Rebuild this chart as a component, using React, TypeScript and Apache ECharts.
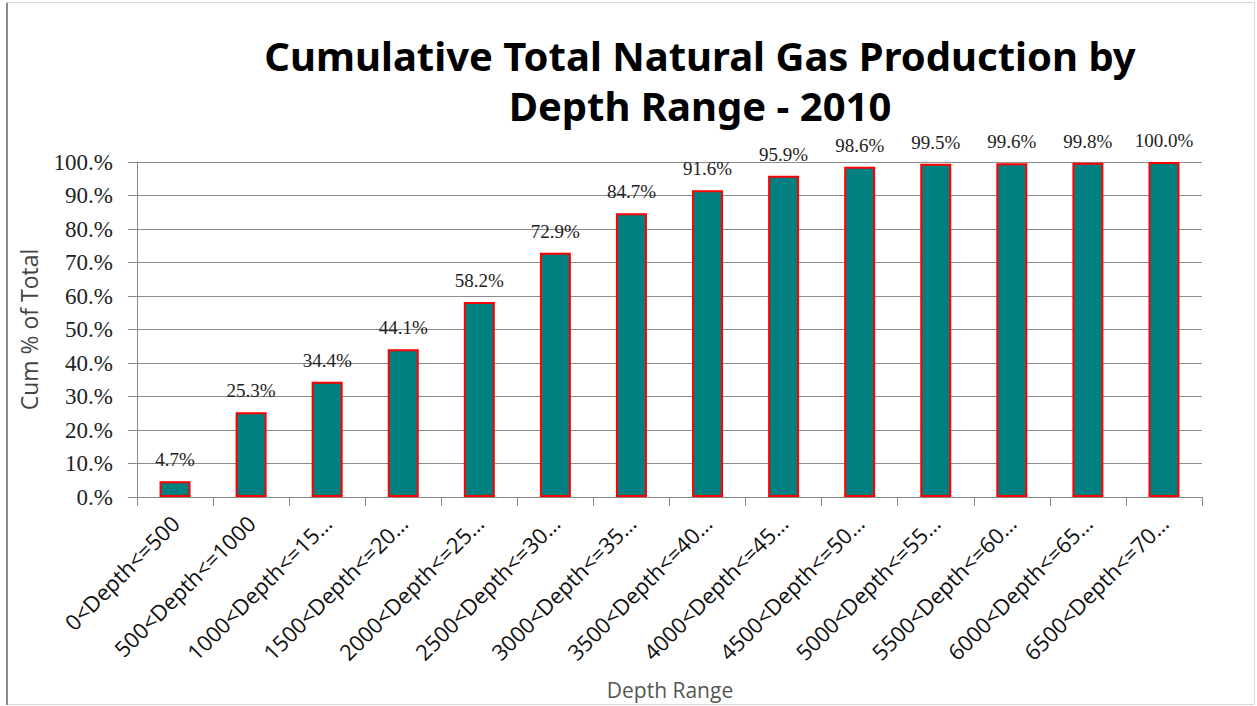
import React, { useEffect, useRef } from "react";
import * as echarts from "echarts";

const categories = [
  "0<Depth<=500",
  "500<Depth<=1000",
  "1000<Depth<=1500",
  "1500<Depth<=2000",
  "2000<Depth<=2500",
  "2500<Depth<=3000",
  "3000<Depth<=3500",
  "3500<Depth<=4000",
  "4000<Depth<=4500",
  "4500<Depth<=5000",
  "5000<Depth<=5500",
  "5500<Depth<=6000",
  "6000<Depth<=6500",
  "6500<Depth<=7000",
];
const cumPercent = [4.7, 25.3, 34.4, 44.1, 58.2, 72.9, 84.7, 91.6, 95.9, 98.6, 99.5, 99.6, 99.8, 100.0];
const titleLines = ["Cumulative Total Natural Gas Production by", "Depth Range - 2010"];
const yAxisTitle = "Cum % of Total";
const xAxisTitle = "Depth Range";

export default function App() {
  const ref = useRef<HTMLDivElement>(null);
  useEffect(() => {
    document.body.style.margin = "0";
    const chart = echarts.init(ref.current!, undefined, { renderer: "svg" });
    chart.setOption({
      animation: false,
      backgroundColor: "#ffffff",
      title: {
        text: titleLines.join("\n"),
        left: 695,
        top: 25,
        textAlign: "center",
        textStyle: {
          fontFamily: "Noto Sans",
          fontWeight: "bold",
          fontSize: 40,
          lineHeight: 50,
          color: "#000",
        },
      },
      graphic: [
        {
          type: "rect",
          shape: { x: 6.5, y: 2.5, width: 1248, height: 702 },
          style: { fill: "none", stroke: "#d8d8d8", lineWidth: 1 },
          silent: true,
        },
        {
          type: "line",
          shape: { x1: 7, y1: 3, x2: 7, y2: 705 },
          style: { stroke: "#8a8a8a", lineWidth: 2 },
          silent: true,
        },
        {
          type: "text",
          x: 670,
          y: 690,
          style: {
            text: xAxisTitle,
            fontFamily: "Open Sans",
            fontSize: 21,
            fill: "#555",
            align: "center",
            verticalAlign: "middle",
          },
          silent: true,
        },
      ],
      grid: { left: 137, right: 55, top: 162, bottom: 209, containLabel: false },
      xAxis: {
        type: "category",
        data: categories,
        axisLine: { lineStyle: { color: "#888", width: 1 } },
        axisTick: { show: true, alignWithLabel: false, length: 9, lineStyle: { color: "#888" } },
        axisLabel: {
          rotate: 45,
          interval: 0,
          margin: 22,
          fontFamily: "Open Sans",
          fontSize: 22,
          color: "#111",
          formatter: (v: string) => (v.length > 15 ? v.slice(0, 14) + "…" : v),
        },
      },
      yAxis: {
        type: "value",
        min: 0,
        max: 100,
        interval: 10,
        name: yAxisTitle,
        nameLocation: "middle",
        nameGap: 97,
        nameRotate: 90,
        nameTextStyle: { fontFamily: "Open Sans", fontSize: 23, color: "#444" },
        axisLine: { show: true, lineStyle: { color: "#888", width: 1 } },
        axisTick: { show: true, length: 9, lineStyle: { color: "#888" } },
        splitLine: { show: true, lineStyle: { color: "#8c8c8c", width: 1 } },
        axisLabel: {
          margin: 24,
          fontFamily: "Liberation Serif",
          fontSize: 23,
          color: "#222",
          formatter: (v: number) => `${v}.%`,
        },
      },
      series: [
        {
          type: "bar",
          data: cumPercent,
          barWidth: 31,
          itemStyle: { color: "#008080", borderColor: "#ff0000", borderWidth: 2 },
          label: {
            show: true,
            position: "top",
            distance: 12,
            fontFamily: "Liberation Serif",
            fontSize: 19,
            color: "#222",
            formatter: (p: any) => `${p.value.toFixed(1)}%`,
          },
        },
      ],
    });
    return () => chart.dispose();
  }, []);
  return <div ref={ref} style={{ width: 1257, height: 706 }} />;
}
